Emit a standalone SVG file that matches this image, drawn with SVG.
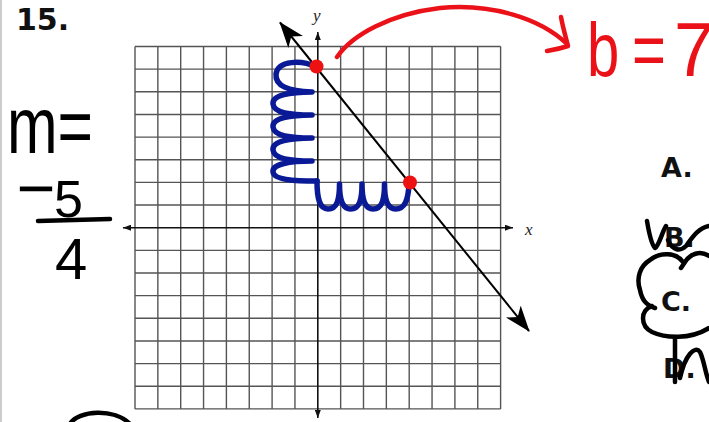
<svg xmlns="http://www.w3.org/2000/svg" width="709" height="422" viewBox="0 0 709 422">
<style>
.grid{stroke:#555;stroke-width:1.4;fill:none}
.axis{stroke:#111;stroke-width:1.6;fill:none}
.ink{fill:none;stroke-linecap:round;stroke-linejoin:round}
.blue{stroke:#0a1a96;stroke-width:5.5}
.red{stroke:#ea1218;stroke-width:4.5}
.blk{stroke:#000;stroke-width:4.5}
.hand{font-family:"Liberation Sans",Arial,sans-serif;fill:#000}
.bold{font-family:"DejaVu Sans",Verdana,sans-serif;font-weight:bold;fill:#111}
.lbl{font-family:"Liberation Serif","Times New Roman",serif;font-style:italic;font-size:17px;fill:#222}
</style>
<defs>
<marker id="small" viewBox="0 0 8 6" refX="8" refY="3" markerWidth="8" markerHeight="6" markerUnits="userSpaceOnUse" orient="auto-start-reverse"><path d="M0,0 L8,3 L0,6 Z" fill="#111"/></marker>
<marker id="big" viewBox="0 0 26 20" refX="25" refY="10" markerWidth="26" markerHeight="20" markerUnits="userSpaceOnUse" orient="auto-start-reverse"><path d="M0,0.5 L26,10 L0,19.5 L7,10 Z" fill="#000"/></marker>
</defs>
<rect width="709" height="422" fill="#fff"/>
<line x1="1" y1="0" x2="1" y2="422" stroke="#bbb" stroke-width="1.5"/>

<g id="grid" class="grid">
<path d="M135,46.5V408.9M157.85,46.5V408.9M180.7,46.5V408.9M203.55,46.5V408.9M226.4,46.5V408.9M249.25,46.5V408.9M272.1,46.5V408.9M294.95,46.5V408.9M340.65,46.5V408.9M363.5,46.5V408.9M386.35,46.5V408.9M409.2,46.5V408.9M432.05,46.5V408.9M454.9,46.5V408.9M477.75,46.5V408.9M500.6,46.5V408.9"/>
<path d="M135,46.5H500.6M135,69.15H500.6M135,91.8H500.6M135,114.45H500.6M135,137.1H500.6M135,159.75H500.6M135,182.4H500.6M135,205.05H500.6M135,250.35H500.6M135,273H500.6M135,295.65H500.6M135,318.3H500.6M135,340.95H500.6M135,363.6H500.6M135,386.25H500.6M135,408.9H500.6"/>
</g>

<g id="axes">
<line class="axis" x1="123" y1="227.7" x2="513" y2="227.7" marker-start="url(#small)" marker-end="url(#small)"/>
<line class="axis" x1="317.8" y1="32" x2="317.8" y2="418" marker-start="url(#small)" marker-end="url(#small)"/>
<text class="lbl" x="525" y="235">x</text>
<text class="lbl" x="313" y="21">y</text>
</g>

<g id="connectors">
<line x1="280" y1="22.5" x2="529" y2="331" stroke="#000" stroke-width="2" marker-start="url(#big)" marker-end="url(#big)"/>
</g>

<g id="rise-run" class="ink blue">
<path d="M316,67 C302,60 278,60 276,74 C275,86 288,91 312,92 C290,92 272,95 273,104 C274,113 290,115 312,115 C290,115 272,118 273,127 C274,136 290,138 312,138 C290,138 272,141 273,150 C274,159 290,161 312,161 C290,161 272,164 273,172 C274,180 295,181 317,181"/>
<path d="M317,181 C317,200 320,209 328,209 C337,209 339.5,200 339.5,184 C339.5,200 342.5,209 350.5,209 C359.5,209 362,200 362,184 C362,200 365,209 373,209 C382,209 384.5,200 384.5,184 C384.5,200 387.5,209 395.5,209 C405,209 408,200 409,185"/>
</g>

<g id="points">
<circle cx="316.5" cy="66.5" r="7" fill="#ee1111"/>
<circle cx="410" cy="182.5" r="7" fill="#ee1111"/>
</g>

<g id="intercept-note">
<path class="ink red" d="M337,57 C352,35 390,14 440,8 C490,3 540,18 567,44"/>
<path class="ink red" d="M561,17 C563,28 566,38 568,46 C562,48 553,50 547,51"/>
<text class="hand" transform="translate(0,76) scale(1,1.3)" font-size="58" style="fill:#ea1218"><tspan x="587">b</tspan><tspan x="632">=</tspan><tspan x="674" textLength="40" lengthAdjust="spacingAndGlyphs">7</tspan></text>
</g>

<g id="question">
<text class="bold" x="16" y="30" font-size="30">15.</text>
</g>

<g id="slope-note">
<text class="hand" x="7" y="153" font-size="80" textLength="86" lengthAdjust="spacingAndGlyphs">m=</text>
<text class="hand" x="20" y="196" font-size="28" textLength="32" lengthAdjust="spacingAndGlyphs" stroke="#000" stroke-width="2.6">-</text>
<text class="hand" x="54" y="217" font-size="52">5</text>
<path class="ink blk" d="M38,221 L110,219"/>
<text class="hand" x="55" y="279" font-size="58">4</text>
</g>

<g id="choices">
<text class="bold" x="661" y="177" font-size="27">A.</text>
<text class="bold" x="664" y="247" font-size="27" fill="#333">B.</text>
<path class="ink blk" d="M647,221 C649,233 651,244 655,248 C659,246 662,232 666,226 M668,240 C672,250 680,252 686,246 C692,238 698,228 709,226"/>
<text class="bold" x="661" y="311" font-size="27">C.</text>
<path class="ink blk" d="M709,256 C700,250 690,254 685,262 L681,268 M683,262 C676,252 660,252 650,260 C640,266 636,278 640,290 C642,300 646,305 655,308 M652,306 C640,310 640,326 652,332 C665,338 690,340 709,328"/>
<text class="bold" x="663" y="378" font-size="27">D.</text>
<path class="ink blk" d="M675,337 L675,382 M680,378 C685,355 695,345 700,352 C704,360 705,372 709,382"/>
</g>

<path class="ink blk" d="M70,424 C78,410 115,408 130,424"/>
</svg>
